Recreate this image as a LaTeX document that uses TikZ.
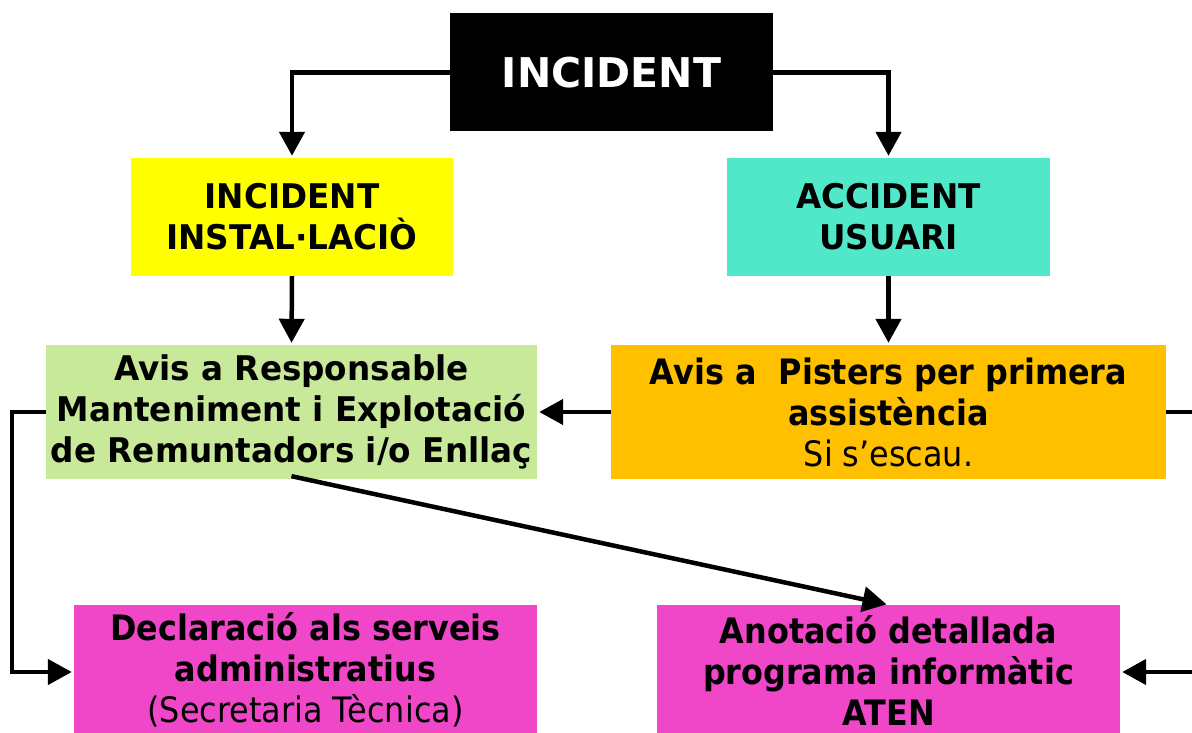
\documentclass[tikz,border=0pt]{standalone}
\usepackage{fontspec}
\setmainfont{DejaVu Sans}
\newfontfamily\wideboxfont[FakeStretch=0.96]{DejaVu Sans}
\newfontfamily\narrowfont[FakeStretch=0.91]{DejaVu Sans}
\usetikzlibrary{arrows.meta}
\definecolor{yellowbox}{HTML}{FFFF00}
\definecolor{tealbox}{HTML}{50E8C8}
\definecolor{greenbox}{HTML}{C8E89A}
\definecolor{orangebox}{HTML}{FFC000}
\definecolor{pinkbox}{HTML}{F046C8}
\tikzset{
    every node/.style={inner sep=0pt, align=center, text=black}
}
\tikzset{
    flowbox/.style={rectangle, minimum width=#1, font=\wideboxfont\fontsize{34}{41}\selectfont\bfseries},
    narrowbox/.style={rectangle, minimum width=#1, font=\narrowfont\fontsize{35}{41}\selectfont\bfseries}
}
\tikzset{
    arr/.style={line width=4.5pt, -{Triangle[length=24pt,width=25pt]}, shorten >=2pt}
}

\begin{document}
\begin{tikzpicture}[x=1pt,y=-1pt]
	\useasboundingbox (0,0) rectangle (1192,733);
	\clip (0,0) rectangle (1192,733);
	\node[rectangle, fill=black, minimum width=323pt, minimum height=118pt,
		text=white, font=\fontsize{41}{49}\selectfont\bfseries] (inc) at (611.5,72.5) {INCIDENT};
	\node[flowbox=322pt, fill=yellowbox, minimum height=118pt] (inst) at (292,217)
		{INCIDENT\\INSTAL·LACIÒ};
	\node[flowbox=323pt, fill=tealbox, minimum height=118pt] (acc) at (888.5,217)
		{ACCIDENT\\USUARI};
	\node[flowbox=491pt, fill=greenbox, minimum height=134pt] (resp) at (291.5,412)
		{Avis a Responsable\\Manteniment i Explotació\\de Remuntadors i/o Enllaç};
	\node[narrowbox=555pt, fill=orangebox, minimum height=134pt] (pist) at (888.5,412)
		{Avis a \ Pisters per primera\\assistència\\\mdseries Si s’escau.};
	\node[narrowbox=463pt, fill=pinkbox, minimum height=130pt] (decl) at (305.5,670)
		{Declaració als serveis\\administratius\\\mdseries (Secretaria Tècnica)};
	\node[narrowbox=463pt, fill=pinkbox, minimum height=130pt] (aten) at (888.5,670)
		{Anotació detallada\\programa informàtic\\ATEN};
	\coordinate (declin) at ([yshift=-2pt]decl.west);
	\coordinate (atenin) at ([yshift=-2pt]aten.east);
	\coordinate (rx) at (1215,0);

	\draw[arr] (inc.west) -| (inst.north);
	\draw[arr] (inc.east) -| (acc.north);
	\draw[arr] (inst.south) -- (resp.north);
	\draw[arr] (acc.south) -- (pist.north);
	\draw[arr] (pist.west) -- (resp.east);
	\draw[arr] (resp.west) -- ++(-34,0) |- (declin);
	\draw[arr] ([yshift=3pt]resp.south) -- (aten.north);
	\draw[arr] (pist.east) -| (rx |- atenin) -- (atenin);
\end{tikzpicture}
\end{document}
